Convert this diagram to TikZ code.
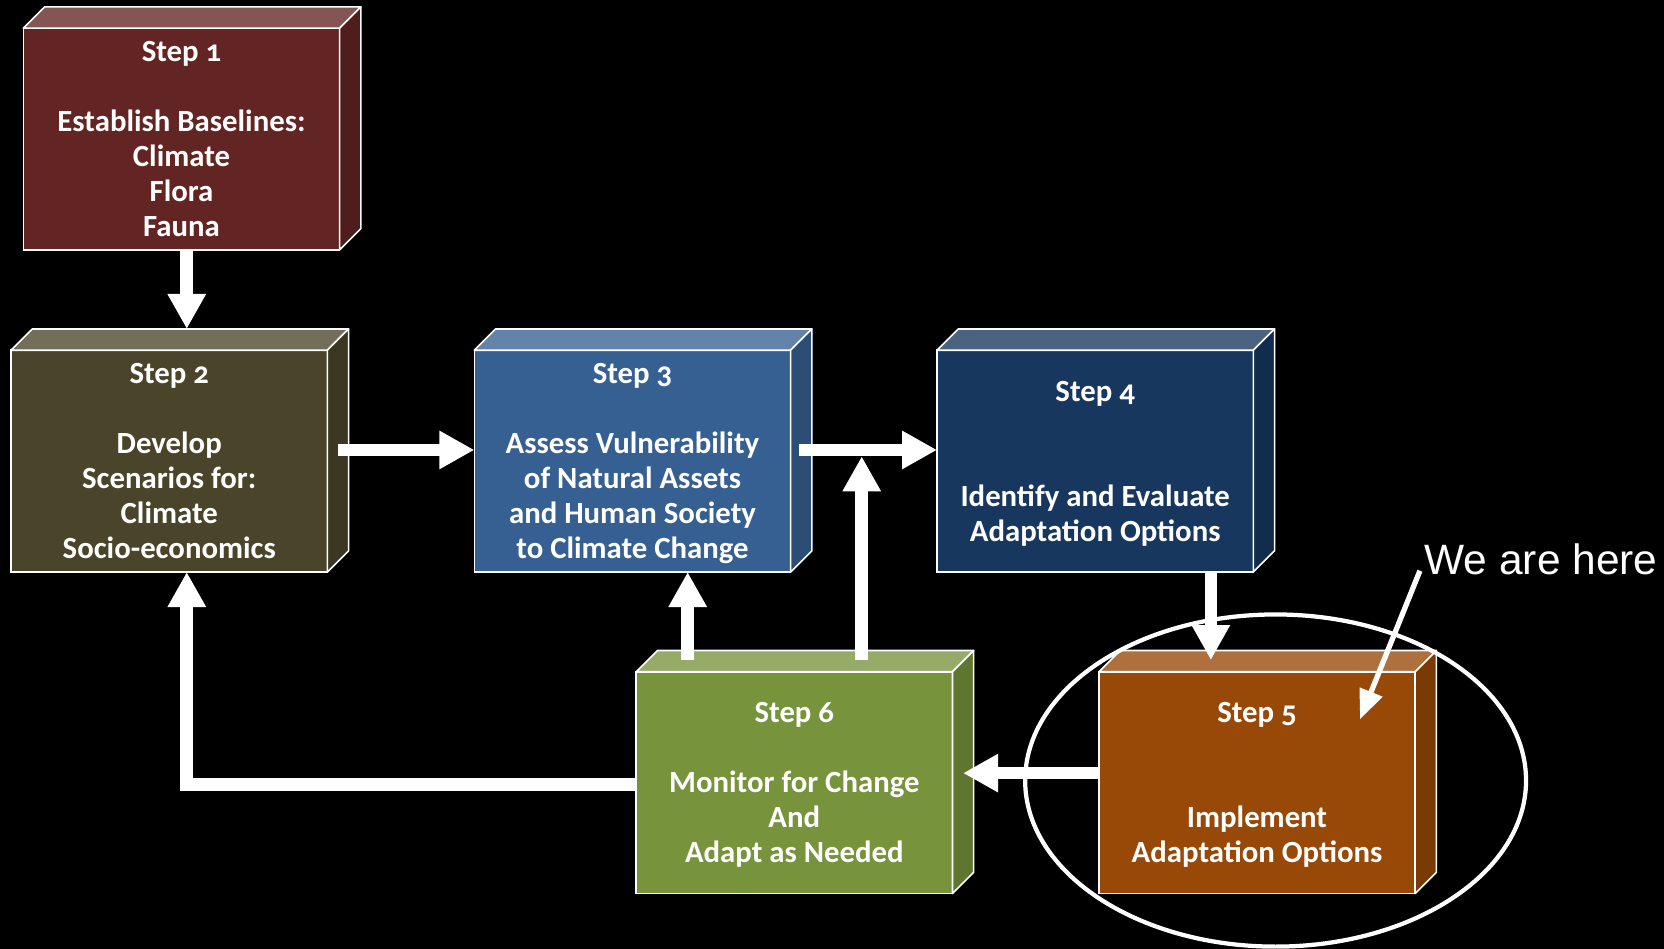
\documentclass[tikz,border=0pt]{standalone}
\usepackage{fontspec}
\setmainfont{Carlito}[Numbers=OldStyle]
\newfontfamily\arialfont{Liberation Sans}
\usetikzlibrary{arrows.meta,shapes.geometric}
\definecolor{cA}{HTML}{632523}
\definecolor{cB}{HTML}{4A452A}
\definecolor{cC}{HTML}{376092}
\definecolor{cD}{HTML}{17375E}
\definecolor{cE}{HTML}{984807}
\definecolor{cF}{HTML}{77933C}
\newcommand\tp{\rule{0pt}{12.5pt}}
\newcommand\bt{\rule[-3pt]{0pt}{3pt}}
\tikzset{
  stepbox/.style={draw=white, line width=0.75pt, minimum width=149pt, minimum height=104.5pt,
    inner sep=0pt, outer sep=0pt, text=white, align=center,
    font=\bfseries\fontsize{14.5}{16.5}\selectfont},
  face/.style={draw=white, line width=0.75pt, line join=round},
  big/.style={draw=white, line width=6pt, -{Triangle[length=16.5pt,width=17pt]}},
  thin/.style={draw=white, line width=2.5pt, -{Triangle[length=14pt,width=11pt]}},
}
\newcommand\mkdepth[2]{%
  \filldraw[face, fill=#2!78!white] (#1.north west) -- ([shift={(20,-20)}]#1.north west)
    -- ([shift={(20,-20)}]#1.north east) -- (#1.north east) -- cycle;
  \filldraw[face, fill=#2!80!black] (#1.north east) -- ([shift={(20,-20)}]#1.north east)
    -- ([shift={(20,-20)}]#1.south east) -- (#1.south east) -- cycle;}
\begin{document}
\begin{tikzpicture}[x=0.5pt,y=-0.5pt]
\fill[black] (0,0) rectangle (1568,894);
\useasboundingbox (0,0) rectangle (1568,894);

\node[stepbox, fill=cA] (s1) at (171,131) {\tp Step 1\\[16.5pt]Establish Baselines:\\Climate\\Flora\\Fauna\bt};
\node[stepbox, fill=cB] (s2) at (159.5,434.5) {\tp Step 2\\[16.5pt]Develop\\Scenarios for:\\Climate\\Socio-economics\bt};
\node[stepbox, fill=cC] (s3) at (596,434.5) {\tp Step 3\\[16.5pt]Assess Vulnerability\\of Natural Assets\\and Human Society\\to Climate Change\bt};
\node[stepbox, fill=cD] (s4) at (1032,434.5) {\tp Step 4\\[33pt]Identify and Evaluate\\Adaptation Options\bt};
\node[stepbox, fill=cE] (s5) at (1184.5,737.5) {\tp Step 5\\[33pt]Implement\\Adaptation Options\bt};
\node[stepbox, fill=cF] (s6) at (748.5,737.5) {\tp Step 6\\[16.5pt]Monitor for Change\\And\\Adapt as Needed\bt};
\mkdepth{s1}{cA}
\mkdepth{s2}{cB}
\mkdepth{s3}{cC}
\mkdepth{s4}{cD}
\mkdepth{s5}{cE}
\mkdepth{s6}{cF}

\path ([yshift=10pt]s2.north) coordinate (s2b)
      ([yshift=5.5pt]s5.north) coordinate (s5t)
      ([shift={(10,-10.5)}]s2.east) coordinate (a23)
      ([shift={(8,-10.5)}]s3.east) coordinate (a34)
      ([yshift=-3pt]a34) coordinate (j34)
      ([shift={(63.5,-11)}]s6.north) coordinate (a6j)
      ([shift={(-100.5,-11)}]s6.north) coordinate (a63)
      ([yshift=4.5pt]s5.west) coordinate (a56)
      ([shift={(-52,45)}]s5.north east) coordinate (tgt);

\draw[big] ([xshift=2.5pt]s1.south) -- ([xshift=2.5pt]s1.south |- s2b);
\draw[big] (a23) -- (a23 -| s3.west);
\draw[big] (a34) -- (a34 -| s4.west);
\draw[big] (a6j) -- (a6j |- j34);
\draw[big] (a63) -- (a63 |- s3.south);
\draw[big] ([xshift=54.5pt]s4.south) -- ([xshift=54.5pt]s4.south |- s5t);
\draw[big] (a56) -- ([xshift=5pt]s6.east |- a56);
\draw[big, line join=miter] ([yshift=-0.75pt]s6.west) -| ([xshift=8.25pt]s2.south);

\node[draw=white, line width=2pt, ellipse, minimum width=236pt, minimum height=156.5pt, inner sep=0pt] (hl) at (1202,735.5) {};
\node[anchor=base west, inner sep=0pt, text=white, font=\arialfont\fontsize{20}{24}\selectfont] (here) at (1342,541) {We are here};
\draw[thin] ([shift={(-4,-4)}]here.south west) -- (tgt);
\end{tikzpicture}
\end{document}
